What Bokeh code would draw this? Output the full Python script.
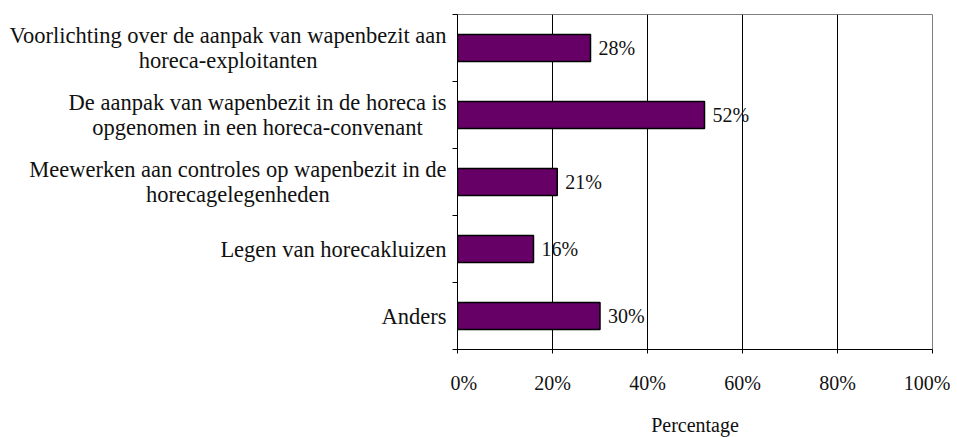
import glob
from bokeh.plotting import figure
from bokeh.layouts import row
from bokeh.models import Range1d, FixedTicker, PrintfTickFormatter, ColumnDataSource
from bokeh.embed import file_html
from bokeh.resources import INLINE

categories = [
    ["Voorlichting over de aanpak van wapenbezit aan", "horeca-exploitanten"],
    ["De aanpak van wapenbezit in de horeca is", "opgenomen in een horeca-convenant"],
    ["Meewerken aan controles op wapenbezit in de", "horecagelegenheden"],
    ["Legen van horecakluizen"],
    ["Anders"],
]
values = [28, 52, 21, 16, 30]
x_ticks = [0, 20, 40, 60, 80, 100]

FONT = "Liberation Serif"
CAT_SIZE = 22.5
TEXT_COLOR = "#111111"

try:
    from PIL import ImageFont
    paths = glob.glob("/usr/share/fonts/**/LiberationSerif-Regular.ttf", recursive=True)
    _pf = ImageFont.truetype(paths[0], int(round(CAT_SIZE * 2)))
    measure = lambda s: _pf.getlength(s) / 2.0
except Exception:
    measure = lambda s: len(s) * CAT_SIZE * 0.44

n = len(categories)
ypos = [n - i - 0.5 for i in range(n)]
labels = [f"{v}%" for v in values]

FRAME_W, FRAME_H = 475, 335
TOP, BOTTOM = 14, 84
AXIS_X = 457          # canvas x of the value axis
RIGHT_BORDER = 7      # left border of the chart figure (room for the ticks)
LEFT_W = AXIS_X - RIGHT_BORDER

# ---------------- chart ----------------
p = figure(frame_width=FRAME_W, frame_height=FRAME_H, output_backend="svg", toolbar_location=None,
           x_range=Range1d(0, 100), y_range=Range1d(0, n),
           min_border_left=RIGHT_BORDER, min_border_right=18,
           min_border_top=TOP, min_border_bottom=BOTTOM)

src = ColumnDataSource(dict(y=ypos, v=values, lab=labels))
p.hbar(y="y", right="v", left=0, height=0.4, source=src,
       fill_color="#660066", line_color="black", line_width=1.5)
p.text(x="v", y="y", text="lab", source=src, x_offset=8, text_align="left",
       text_baseline="middle", text_font_size="20px", text_color=TEXT_COLOR,
       text_font=FONT)

p.ygrid.grid_line_color = None
p.xgrid.ticker = FixedTicker(ticks=x_ticks)
p.xgrid.grid_line_color = "black"
p.xgrid.grid_line_width = 1
p.outline_line_color = "#808080"
p.background_fill_color = "white"
p.border_fill_color = "white"

xa = p.xaxis[0]
xa.ticker = FixedTicker(ticks=x_ticks)
xa.formatter = PrintfTickFormatter(format="%d%%")
xa.axis_line_color = "black"
xa.major_tick_out = 4
xa.major_tick_in = 0
xa.minor_tick_line_color = None
xa.major_label_standoff = 18
xa.major_label_text_font = FONT
xa.major_label_text_font_size = "20px"
xa.major_label_text_color = TEXT_COLOR
xa.axis_label = "Percentage"
xa.axis_label_standoff = 17
xa.axis_label_text_font = FONT
xa.axis_label_text_font_size = "20px"
xa.axis_label_text_font_style = "normal"
xa.axis_label_text_color = TEXT_COLOR

ya = p.yaxis[0]
ya.ticker = FixedTicker(ticks=[], minor_ticks=list(range(n + 1)))
ya.axis_line_color = "black"
ya.major_tick_line_color = None
ya.major_tick_out = 0
ya.major_tick_in = 0
ya.minor_tick_line_color = "black"
ya.minor_tick_out = 5
ya.minor_tick_in = 0
ya.major_label_standoff = 0
ya.major_label_text_font_size = "0px"

# ---------------- category labels panel ----------------
# x units of this panel = pixels relative to the value axis (negative = left of it)
STANDOFF = 11
LINE_H = 25 / (FRAME_H / n)   # line spacing in data units
lx, ly, lt = [], [], []
for lines, y in zip(categories, ypos):
    w = max(measure(s) for s in lines)
    xc = -(STANDOFF + w / 2.0)
    for k, s in enumerate(lines):
        lx.append(xc)
        ly.append(y + ((len(lines) - 1) / 2.0 - k) * LINE_H)
        lt.append(s)

q = figure(frame_width=LEFT_W, frame_height=FRAME_H, output_backend="svg", toolbar_location=None,
           x_range=Range1d(-AXIS_X, -RIGHT_BORDER), y_range=Range1d(0, n),
           x_axis_location=None, y_axis_location=None,
           min_border_left=0, min_border_right=0, min_border_top=TOP, min_border_bottom=BOTTOM)
q.grid.grid_line_color = None
q.outline_line_color = None
q.background_fill_color = "white"
q.border_fill_color = "white"
q.text(x=lx, y=ly, text=lt, text_align="center", text_baseline="middle",
       text_font=FONT, text_font_size=f"{CAT_SIZE}px", text_color=TEXT_COLOR)

layout = row(q, p, spacing=0)
open("out.html", "w").write(file_html(layout, INLINE))
